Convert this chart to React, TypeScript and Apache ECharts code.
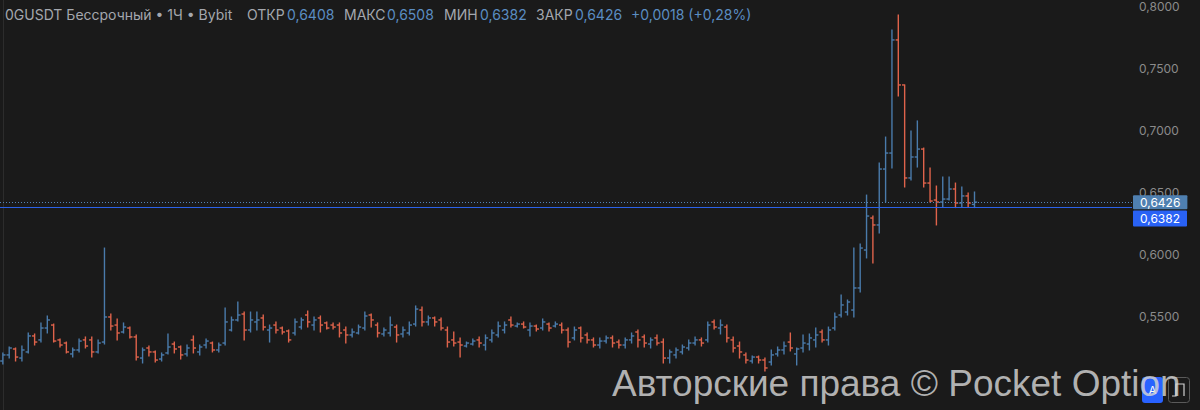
import React, { useEffect, useRef } from "react";
import * as echarts from "echarts";

// Hourly OHLC bars, 0GUSDT perpetual (Bybit)
const openPrices = [
  0.5145, 0.5194, 0.5242, 0.5169, 0.5218, 0.5347, 0.5315, 0.5411, 0.5435, 0.5315,
  0.5290, 0.5202, 0.5234, 0.5315, 0.5315, 0.5218, 0.5298, 0.5500, 0.5435, 0.5379,
  0.5411, 0.5339, 0.5169, 0.5250, 0.5218, 0.5161, 0.5210, 0.5282, 0.5258, 0.5202,
  0.5315, 0.5218, 0.5274, 0.5290, 0.5234, 0.5290, 0.5395, 0.5476, 0.5524, 0.5395,
  0.5460, 0.5492, 0.5395, 0.5435, 0.5411, 0.5387, 0.5371, 0.5419, 0.5516, 0.5435,
  0.5492, 0.5452, 0.5435, 0.5435, 0.5395, 0.5355, 0.5371, 0.5411, 0.5516, 0.5435,
  0.5363, 0.5371, 0.5419, 0.5363, 0.5371, 0.5443, 0.5556, 0.5460, 0.5492, 0.5476,
  0.5395, 0.5315, 0.5298, 0.5266, 0.5282, 0.5315, 0.5274, 0.5315, 0.5355, 0.5395,
  0.5476, 0.5427, 0.5443, 0.5395, 0.5427, 0.5411, 0.5443, 0.5427, 0.5435, 0.5395,
  0.5331, 0.5411, 0.5355, 0.5315, 0.5274, 0.5306, 0.5331, 0.5298, 0.5274, 0.5315,
  0.5379, 0.5339, 0.5282, 0.5331, 0.5298, 0.5169, 0.5194, 0.5218, 0.5250, 0.5290,
  0.5315, 0.5315, 0.5460, 0.5411, 0.5419, 0.5315, 0.5266, 0.5194, 0.5145, 0.5177,
  0.5153, 0.5137, 0.5202, 0.5234, 0.5298, 0.5202, 0.5250, 0.5282, 0.5315, 0.5379,
  0.5315, 0.5411, 0.5516, 0.5540, 0.5556, 0.5734, 0.6040, 0.6298, 0.6242, 0.6693,
  0.6822, 0.7734, 0.7371, 0.6621, 0.6790, 0.6854, 0.6580, 0.6443, 0.6427, 0.6451,
  0.6532, 0.6419, 0.6476, 0.6408,
];

const highPrices = [
  0.5210, 0.5258, 0.5250, 0.5266, 0.5371, 0.5363, 0.5452, 0.5508, 0.5443, 0.5323,
  0.5298, 0.5250, 0.5323, 0.5339, 0.5339, 0.5315, 0.6056, 0.5524, 0.5484, 0.5452,
  0.5419, 0.5355, 0.5250, 0.5266, 0.5226, 0.5210, 0.5363, 0.5298, 0.5266, 0.5274,
  0.5347, 0.5274, 0.5323, 0.5298, 0.5290, 0.5572, 0.5500, 0.5621, 0.5540, 0.5540,
  0.5540, 0.5516, 0.5435, 0.5460, 0.5419, 0.5395, 0.5484, 0.5492, 0.5548, 0.5500,
  0.5508, 0.5460, 0.5452, 0.5452, 0.5419, 0.5403, 0.5435, 0.5540, 0.5524, 0.5452,
  0.5411, 0.5500, 0.5435, 0.5419, 0.5460, 0.5589, 0.5581, 0.5508, 0.5500, 0.5492,
  0.5419, 0.5379, 0.5331, 0.5298, 0.5323, 0.5339, 0.5355, 0.5395, 0.5460, 0.5460,
  0.5500, 0.5452, 0.5460, 0.5452, 0.5435, 0.5484, 0.5452, 0.5460, 0.5452, 0.5411,
  0.5419, 0.5419, 0.5371, 0.5331, 0.5331, 0.5347, 0.5347, 0.5315, 0.5331, 0.5371,
  0.5395, 0.5355, 0.5331, 0.5355, 0.5323, 0.5234, 0.5250, 0.5274, 0.5315, 0.5339,
  0.5331, 0.5460, 0.5476, 0.5476, 0.5435, 0.5339, 0.5298, 0.5210, 0.5185, 0.5185,
  0.5169, 0.5234, 0.5258, 0.5298, 0.5371, 0.5250, 0.5355, 0.5363, 0.5411, 0.5395,
  0.5419, 0.5532, 0.5677, 0.5637, 0.6056, 0.6089, 0.6483, 0.6314, 0.6741, 0.6951,
  0.7815, 0.7935, 0.7371, 0.7000, 0.7081, 0.6862, 0.6701, 0.6556, 0.6629, 0.6629,
  0.6580, 0.6548, 0.6500, 0.6508,
];

const lowPrices = [
  0.5121, 0.5169, 0.5145, 0.5145, 0.5210, 0.5274, 0.5298, 0.5371, 0.5298, 0.5258,
  0.5210, 0.5177, 0.5218, 0.5250, 0.5177, 0.5210, 0.5282, 0.5395, 0.5315, 0.5371,
  0.5331, 0.5153, 0.5129, 0.5185, 0.5137, 0.5145, 0.5202, 0.5210, 0.5161, 0.5185,
  0.5210, 0.5194, 0.5250, 0.5218, 0.5218, 0.5274, 0.5387, 0.5468, 0.5315, 0.5379,
  0.5395, 0.5395, 0.5298, 0.5371, 0.5363, 0.5298, 0.5355, 0.5403, 0.5419, 0.5395,
  0.5379, 0.5403, 0.5403, 0.5339, 0.5290, 0.5339, 0.5363, 0.5395, 0.5419, 0.5339,
  0.5347, 0.5347, 0.5298, 0.5339, 0.5355, 0.5427, 0.5427, 0.5435, 0.5427, 0.5395,
  0.5258, 0.5266, 0.5177, 0.5258, 0.5274, 0.5258, 0.5234, 0.5298, 0.5339, 0.5371,
  0.5419, 0.5419, 0.5411, 0.5347, 0.5387, 0.5395, 0.5387, 0.5419, 0.5371, 0.5258,
  0.5315, 0.5298, 0.5290, 0.5258, 0.5250, 0.5290, 0.5258, 0.5250, 0.5250, 0.5290,
  0.5258, 0.5258, 0.5250, 0.5274, 0.5129, 0.5129, 0.5169, 0.5202, 0.5234, 0.5274,
  0.5266, 0.5298, 0.5403, 0.5363, 0.5298, 0.5218, 0.5169, 0.5129, 0.5129, 0.5129,
  0.5065, 0.5113, 0.5185, 0.5202, 0.5226, 0.5113, 0.5218, 0.5234, 0.5258, 0.5298,
  0.5274, 0.5395, 0.5500, 0.5516, 0.5500, 0.5702, 0.5976, 0.5935, 0.6177, 0.6427,
  0.6701, 0.7282, 0.6548, 0.6605, 0.6709, 0.6548, 0.6427, 0.6242, 0.6382, 0.6443,
  0.6382, 0.6382, 0.6382, 0.6382,
];

const closePrices = [
  0.5194, 0.5250, 0.5177, 0.5234, 0.5347, 0.5298, 0.5411, 0.5476, 0.5306, 0.5274,
  0.5218, 0.5234, 0.5306, 0.5266, 0.5218, 0.5290, 0.5500, 0.5427, 0.5371, 0.5419,
  0.5339, 0.5177, 0.5234, 0.5218, 0.5153, 0.5194, 0.5258, 0.5242, 0.5194, 0.5250,
  0.5250, 0.5258, 0.5306, 0.5234, 0.5274, 0.5460, 0.5476, 0.5516, 0.5395, 0.5476,
  0.5476, 0.5419, 0.5411, 0.5395, 0.5379, 0.5315, 0.5460, 0.5476, 0.5460, 0.5476,
  0.5435, 0.5411, 0.5419, 0.5371, 0.5355, 0.5379, 0.5419, 0.5508, 0.5476, 0.5371,
  0.5395, 0.5435, 0.5355, 0.5395, 0.5435, 0.5564, 0.5460, 0.5492, 0.5460, 0.5411,
  0.5298, 0.5290, 0.5274, 0.5290, 0.5306, 0.5290, 0.5331, 0.5371, 0.5427, 0.5435,
  0.5435, 0.5443, 0.5419, 0.5427, 0.5403, 0.5460, 0.5411, 0.5443, 0.5395, 0.5298,
  0.5395, 0.5331, 0.5315, 0.5274, 0.5306, 0.5331, 0.5290, 0.5274, 0.5315, 0.5347,
  0.5315, 0.5290, 0.5315, 0.5290, 0.5169, 0.5218, 0.5234, 0.5258, 0.5290, 0.5315,
  0.5290, 0.5435, 0.5419, 0.5435, 0.5331, 0.5250, 0.5218, 0.5153, 0.5177, 0.5153,
  0.5089, 0.5194, 0.5234, 0.5266, 0.5250, 0.5242, 0.5290, 0.5331, 0.5355, 0.5315,
  0.5395, 0.5500, 0.5597, 0.5621, 0.5734, 0.6056, 0.6314, 0.6242, 0.6693, 0.6822,
  0.7734, 0.7371, 0.6621, 0.6790, 0.6854, 0.6580, 0.6435, 0.6427, 0.6451, 0.6532,
  0.6419, 0.6476, 0.6419, 0.6426,
];

// Price-scale tick labels
const yTicks = [0.55, 0.6, 0.65, 0.7, 0.75, 0.8];

const symbolTitle = "0GUSDT Бессрочный • 1Ч • Bybit";
const legendLabels = ["ОТКР", "МАКС", "МИН", "ЗАКР"];
const watermarkText = "Авторские права © Pocket Option";

const UP = "#4a7bab";
const DOWN = "#df634b";
const BG = "#1a1a1a";
const FONT = "Inter, 'Noto Sans', sans-serif";

const fmt = (v: number, digits = 4) => v.toFixed(digits).replace(".", ",");

export default function App() {
  const ref = useRef<HTMLDivElement>(null);

  useEffect(() => {
    if (!ref.current) return;
    const chart = echarts.init(ref.current, undefined, { renderer: "svg" });

    const n = openPrices.length;
    const last = n - 1;
    const lastOpen = openPrices[last];
    const lastHigh = highPrices[last];
    const lastLow = lowPrices[last];
    const lastClose = closePrices[last];
    const change = lastClose - lastOpen;
    const changePct = (change / lastOpen) * 100;
    const sign = change >= 0 ? "+" : "−";

    const bars = openPrices.map((o, i) => [i, o, closePrices[i], lowPrices[i], highPrices[i]]);

    const headerGray = "#a4a7ae";
    const headerBlue = "#5a8dc2";
    const headerFont = `14px ${FONT}`;
    const legendValues = [lastOpen, lastHigh, lastLow, lastClose];
    const legendLabelX = [247, 344, 444, 536];
    const legendValueX = [287, 387, 480, 575];

    const headerTexts: any[] = [
      {
        type: "text",
        x: 5,
        y: 14,
        style: { text: symbolTitle, fill: headerGray, font: headerFont, verticalAlign: "middle" },
      },
    ];
    legendLabels.forEach((lbl, k) => {
      headerTexts.push({
        type: "text",
        x: legendLabelX[k],
        y: 14,
        style: { text: lbl, fill: headerGray, font: headerFont, verticalAlign: "middle" },
      });
      headerTexts.push({
        type: "text",
        x: legendValueX[k],
        y: 14,
        style: { text: fmt(legendValues[k]), fill: headerBlue, font: headerFont, verticalAlign: "middle" },
      });
    });
    headerTexts.push({
      type: "text",
      x: 631,
      y: 14,
      style: {
        text: `${sign}${fmt(Math.abs(change))} (${sign}${fmt(Math.abs(changePct), 2)}%)`,
        fill: headerBlue,
        font: headerFont,
        verticalAlign: "middle",
      },
    });

    const option: any = {
      animation: false,
      backgroundColor: BG,
      grid: {
        left: 0,
        right: 68,
        top: 0,
        bottom: 0,
        containLabel: false,
        outerBoundsMode: "none",
      },
      xAxis: {
        type: "value",
        min: -0.45,
        max: 177.8,
        show: false,
        splitLine: { show: false },
      },
      yAxis: {
        type: "value",
        position: "right",
        min: 0.475,
        max: 0.8056,
        scale: true,
        splitLine: { show: false },
        axisTick: { show: false },
        axisLine: { show: true, lineStyle: { color: "#2c2c2c", width: 1 } },
        axisLabel: {
          customValues: yTicks,
          formatter: (v: number) => fmt(v),
          color: "#8b8b8b",
          fontFamily: FONT,
          fontSize: 12,
          margin: 7,
        },
      },
      series: [
        {
          type: "custom",
          z: 5,
          data: bars,
          encode: { x: 0, y: [1, 2, 3, 4] },
          renderItem: (_params: any, api: any) => {
            const i = api.value(0);
            const o = api.value(1);
            const c = api.value(2);
            const l = api.value(3);
            const h = api.value(4);
            const [x, yO] = api.coord([i, o]);
            const yC = api.coord([i, c])[1];
            const yL = api.coord([i, l])[1];
            const yH = api.coord([i, h])[1];
            const w = api.size([1, 0])[0];
            const t = w * 0.42;
            const style = { stroke: c >= o ? UP : DOWN, lineWidth: 1.4, fill: null };
            return {
              type: "group",
              children: [
                { type: "line", shape: { x1: x, y1: yH - 0.5, x2: x, y2: yL + 0.5 }, style },
                { type: "line", shape: { x1: x - t, y1: yO, x2: x, y2: yO }, style },
                { type: "line", shape: { x1: x, y1: yC, x2: x + t, y2: yC }, style },
              ],
            };
          },
          markLine: {
            silent: true,
            symbol: "none",
            precision: 4,
            z: 20,
            data: [
              {
                yAxis: lastClose,
                lineStyle: { color: "#5585b6", width: 1, type: [1, 2] },
                label: {
                  show: true,
                  position: "end",
                  distance: 1,
                  formatter: (p: any) => fmt(Number(p.value)),
                  color: "#ffffff",
                  backgroundColor: "#4f80b1",
                  padding: [1, 7, 0, 7],
                  fontFamily: FONT,
                  fontSize: 12,
                  lineHeight: 13,
                  borderRadius: 1,
                },
              },
              {
                yAxis: lastLow,
                lineStyle: { color: "#2b62e8", width: 1, type: "solid" },
                label: {
                  show: true,
                  position: "end",
                  distance: 1,
                  offset: [0, 11],
                  formatter: (p: any) => fmt(Number(p.value)),
                  color: "#ffffff",
                  backgroundColor: "#2962f5",
                  padding: [2, 7, 1, 7],
                  fontFamily: FONT,
                  fontSize: 12,
                  lineHeight: 13,
                  borderRadius: 1,
                },
              },
            ],
          },
        },
      ],
      graphic: [
        ...headerTexts,
        {
          type: "rect",
          z: 50,
          shape: { x: 1142, y: 377, width: 21, height: 26, r: 3 },
          style: { fill: "#2962ff" },
        },
        {
          type: "text",
          z: 51,
          x: 1152.5,
          y: 390,
          style: {
            text: "A",
            fill: "#ffffff",
            font: `11px ${FONT}`,
            align: "center",
            verticalAlign: "middle",
          },
        },
        {
          type: "rect",
          z: 50,
          shape: { x: 1168.5, y: 377.5, width: 21, height: 25, r: 3 },
          style: { fill: "none", stroke: "#5a5a5a", lineWidth: 1 },
        },
        {
          type: "polyline",
          z: 51,
          shape: { points: [[1172, 396], [1176, 396], [1176, 384], [1184, 384], [1184, 396]] },
          style: { fill: "none", stroke: "#d0d0d0", lineWidth: 1.2 },
        },
        {
          type: "text",
          z: 60,
          x: 612,
          y: 383.5,
          style: {
            text: watermarkText,
            fill: "rgba(212,212,212,0.82)",
            font: `37px 'Liberation Sans', Arial, sans-serif`,
            verticalAlign: "middle",
            align: "left",
          },
        },
      ],
    };

    chart.setOption(option);
    return () => chart.dispose();
  }, []);

  return (
    <div
      ref={ref}
      style={{ position: "absolute", left: 0, top: 0, width: 1200, height: 410 }}
    />
  );
}
